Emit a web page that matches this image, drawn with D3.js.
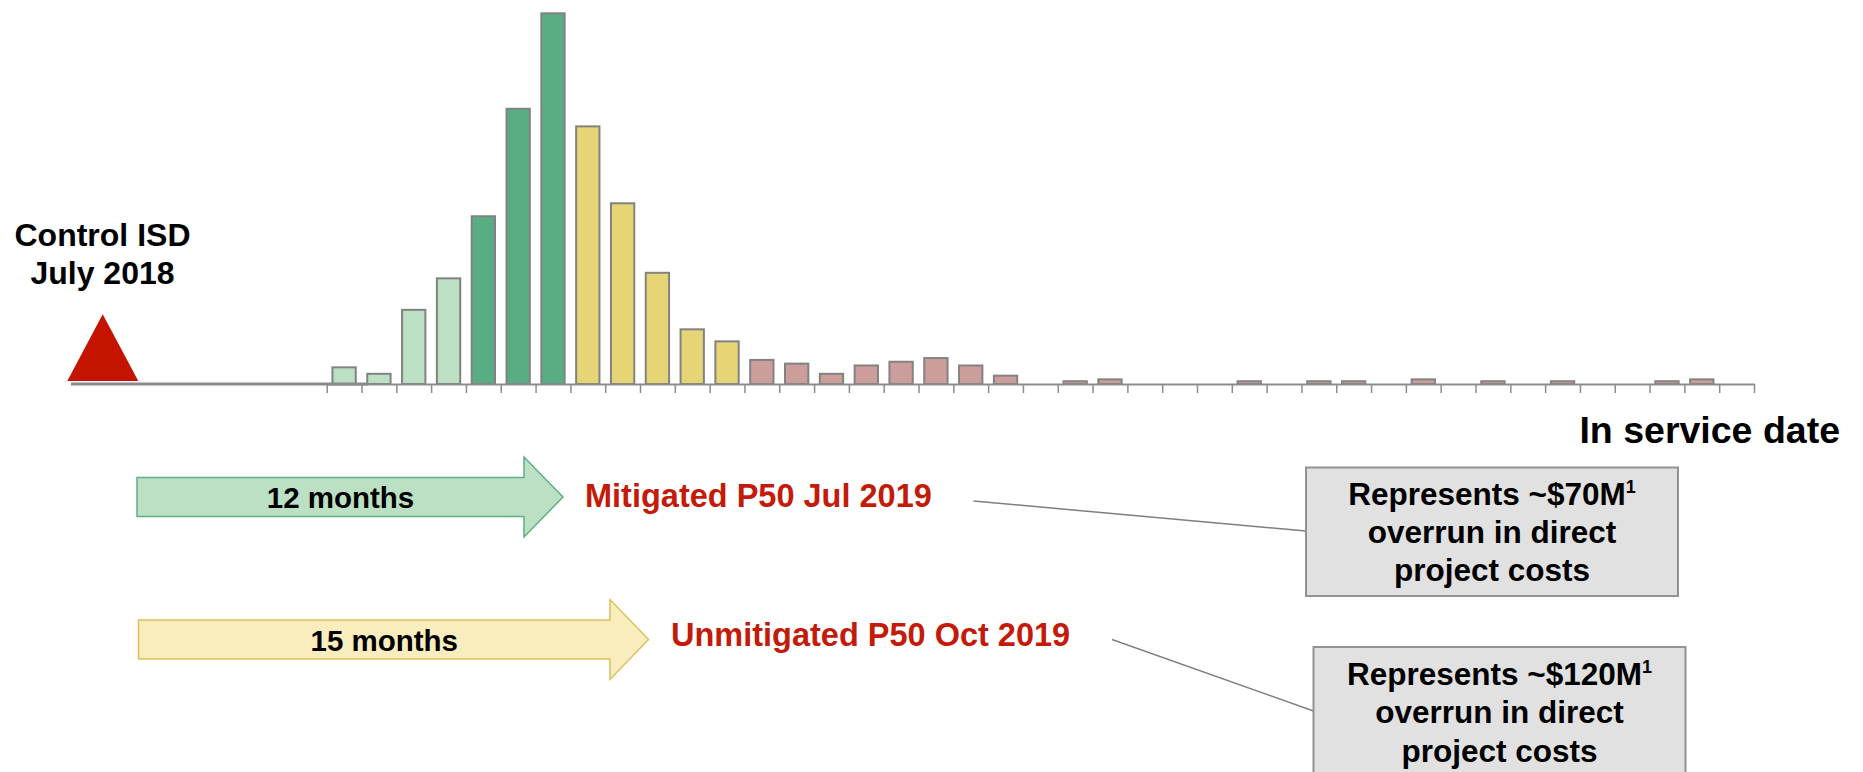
<!DOCTYPE html>
<html>
<head>
<title>In service date distribution</title>
<script src="https://cdn.jsdelivr.net/npm/d3@7"></script>
<style>
  body { margin: 0; background: #fff; }
  svg { display: block; font-family: "Liberation Sans", Arial, sans-serif; font-weight: bold; }
</style>
</head>
<body>
<svg width="1863" height="772"></svg>
<script>
// one bar per month of possible in service date
var months = [
  "Jan 2019", "Feb 2019", "Mar 2019", "Apr 2019", "May 2019", "Jun 2019",
  "Jul 2019", "Aug 2019", "Sep 2019", "Oct 2019", "Nov 2019", "Dec 2019",
  "Jan 2020", "Feb 2020", "Mar 2020", "Apr 2020", "May 2020", "Jun 2020",
  "Jul 2020", "Aug 2020", "Sep 2020", "Oct 2020", "Nov 2020", "Dec 2020",
  "Jan 2021", "Feb 2021", "Mar 2021", "Apr 2021", "May 2021", "Jun 2021",
  "Jul 2021", "Aug 2021", "Sep 2021", "Oct 2021", "Nov 2021", "Dec 2021",
  "Jan 2022", "Feb 2022", "Mar 2022", "Apr 2022", "May 2022"];

// probability (%) of finishing in each month
var probability = [
  0.9, 0.55, 4.0, 5.7, 9.05, 14.85, 20.0, 13.9, 9.75, 6.0, 2.95, 2.3,
  1.3, 1.1, 0.55, 1.0, 1.2, 1.4, 1.0, 0.45, 0, 0.15, 0.25, 0,
  0, 0, 0.15, 0, 0.15, 0.15, 0, 0.25, 0, 0.15, 0, 0.15,
  0, 0, 0.15, 0.25, 0];

// colour group of each bar
var phase = [
  "early", "early", "early", "early", "mitigated", "mitigated", "mitigated",
  "unmitigated", "unmitigated", "unmitigated", "unmitigated", "unmitigated"];
var phaseColors = {
  early: "#bce0c4",
  mitigated: "#59ad82",
  unmitigated: "#e5d574",
  late: "#cc9e9b"
};

var arrows = [
  {label: "12 months", fill: "#bce0c4", stroke: "#5fae84",
   x0: 137, x1: 524, tip: 563, y: 497, body: 39, head: 80,
   target: "Mitigated P50 Jul 2019", tx: 585, ty: 507},
  {label: "15 months", fill: "#f9edbd", stroke: "#dcc05c",
   x0: 138.5, x1: 610, tip: 648.5, y: 639.5, body: 39, head: 80,
   target: "Unmitigated P50 Oct 2019", tx: 671, ty: 646}
];

var notes = [
  {lines: ["Represents ~$70M", "overrun in direct", "project costs"],
   x: 1306, y: 467.5, w: 372, h: 128.5, base: 504.5,
   from: [973.5, 501], to: [1306, 531]},
  {lines: ["Represents ~$120M", "overrun in direct", "project costs"],
   x: 1313.5, y: 647, w: 372, h: 150, base: 685,
   from: [1112, 639.5], to: [1313.5, 711]}
];

var svg = d3.select("svg");

var left = 326.7, right = 1754, baseY = 384;

var edge = d3.scaleLinear()
    .domain([0, months.length])
    .range([left, right]);

var x = d3.scaleBand()
    .domain(months)
    .range([left, right])
    .paddingInner(0.33)
    .paddingOuter(0.165);

var y = d3.scaleLinear()
    .domain([0, 20])
    .range([baseY, 13.3]);

// bars
svg.append("g").selectAll("rect")
    .data(months.map(function(m, i){
        return {month: m, value: probability[i], phase: phase[i] || "late"}; })
      .filter(function(d){ return d.value > 0; }))
  .enter().append("rect")
    .attr("x", function(d){ return x(d.month); })
    .attr("y", function(d){ return y(d.value); })
    .attr("width", x.bandwidth())
    .attr("height", function(d){ return baseY - y(d.value); })
    .attr("fill", function(d){ return phaseColors[d.phase]; })
    .attr("stroke", "#828282")
    .attr("stroke-width", 2);

// timeline from control date
svg.append("line")
    .attr("x1", 71).attr("x2", 368)
    .attr("y1", baseY).attr("y2", baseY)
    .attr("stroke", "#8a8a8a")
    .attr("stroke-width", 3);

var axis = svg.append("g")
    .attr("transform", "translate(0," + baseY + ")")
    .call(d3.axisBottom(edge)
        .tickValues(d3.range(months.length + 1))
        .tickSizeInner(9)
        .tickSizeOuter(0)
        .tickFormat(""));
axis.select(".domain").attr("stroke", "#8c8c8c").attr("stroke-width", 2);
axis.selectAll(".tick line").attr("stroke", "#8c8c8c").attr("stroke-width", 1.5);

svg.append("text")
    .attr("x", 1840).attr("y", 442.5)
    .attr("text-anchor", "end")
    .attr("font-size", 37.5)
    .text("In service date");

// control ISD marker
svg.append("path")
    .attr("d", "M102.7,314.3 L138.3,381 L67.3,381 Z")
    .attr("fill", "#c41400");

svg.append("text")
    .attr("text-anchor", "middle")
    .attr("font-size", 32)
    .selectAll("tspan")
    .data(["Control ISD", "July 2018"])
  .enter().append("tspan")
    .attr("x", 102.5)
    .attr("y", function(d, i){ return 246 + i * 38; })
    .text(function(d){ return d; });

// duration arrows
arrows.forEach(function(a){
    var b = a.body / 2, h = a.head / 2;
    svg.append("path")
        .attr("d", "M" + a.x0 + "," + (a.y - b) +
                   "H" + a.x1 + "V" + (a.y - h) +
                   "L" + a.tip + "," + a.y +
                   "L" + a.x1 + "," + (a.y + h) +
                   "V" + (a.y + b) + "H" + a.x0 + "Z")
        .attr("fill", a.fill)
        .attr("stroke", a.stroke)
        .attr("stroke-width", 1.5);
    svg.append("text")
        .attr("x", (a.x0 + a.x1) / 2 + 10)
        .attr("y", a.y + 11)
        .attr("text-anchor", "middle")
        .attr("font-size", 29.5)
        .text(a.label);
    svg.append("text")
        .attr("x", a.tx).attr("y", a.ty)
        .attr("font-size", 32.5)
        .attr("fill", "#c41a0a")
        .text(a.target);
});

// cost callouts
notes.forEach(function(n){
    svg.append("line")
        .attr("x1", n.from[0]).attr("y1", n.from[1])
        .attr("x2", n.to[0]).attr("y2", n.to[1])
        .attr("stroke", "#7f7f7f")
        .attr("stroke-width", 1.5);
    svg.append("rect")
        .attr("x", n.x).attr("y", n.y)
        .attr("width", n.w).attr("height", n.h)
        .attr("fill", "#e1e1e1")
        .attr("stroke", "#929292")
        .attr("stroke-width", 2);
    var t = svg.append("text")
        .attr("text-anchor", "middle")
        .attr("font-size", 31.5);
    n.lines.forEach(function(line, i){
        var s = t.append("tspan")
            .attr("x", n.x + n.w / 2)
            .attr("y", n.base + i * 38.3)
            .text(line);
        if (i == 0)
            t.append("tspan")
                .attr("font-size", 18)
                .attr("dy", -12)
                .text("1");
    });
});
</script>
</body>
</html>
